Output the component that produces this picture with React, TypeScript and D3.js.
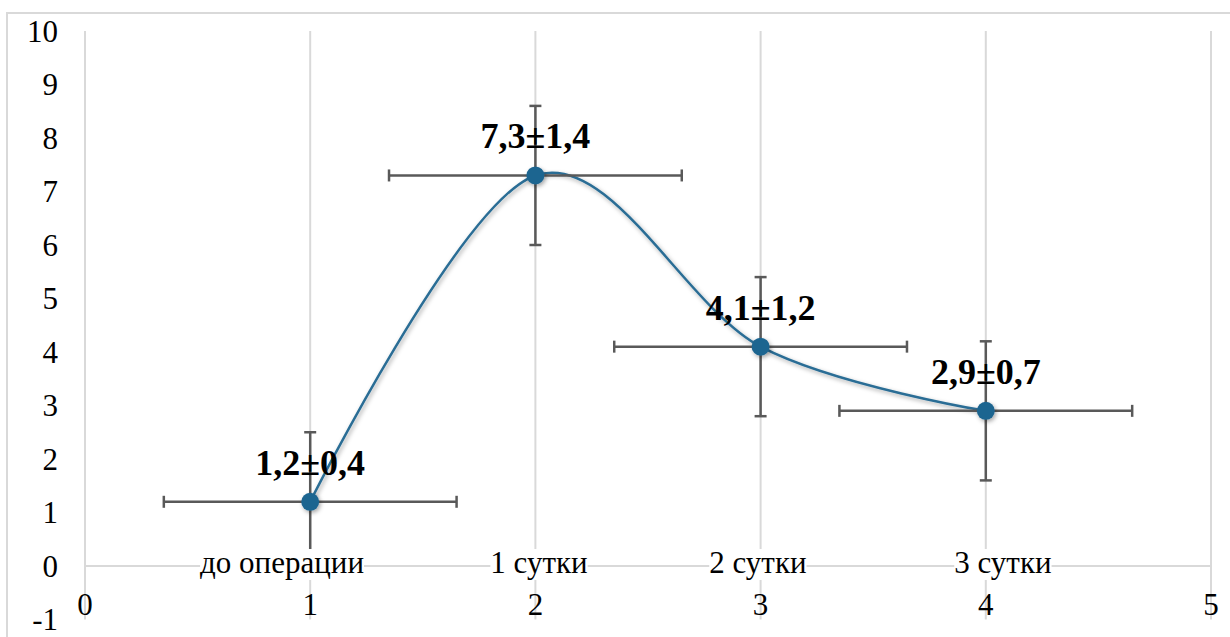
import React, { useEffect, useRef } from "react";
import * as d3 from "d3";

// Pain score by day: mean ± SD
const days = [1, 2, 3, 4];
const means = [1.2, 7.3, 4.1, 2.9];
const spreads = [0.4, 1.4, 1.2, 0.7];
const categories = ["до операции", "1 сутки", "2 сутки", "3 сутки"];
// fixed-value error bars of the series
const yErrorAmount = 1.3;
const xErrorAmount = 0.65;
const xTicks = [0, 1, 2, 3, 4, 5];
const yTicks = [-1, 0, 1, 2, 3, 4, 5, 6, 7, 8, 9, 10];

const W = 1230;
const H = 637;
const FONT = "'Liberation Serif', 'Times New Roman', serif";
const GRID = "#d9d9d9";
const BAR = "#595959";
const LINE = "#2a6d95";
const MARKER = "#1f6590";

// horizontal anchor (in x units) of each category caption
const captionAnchor = [0.875, 2.016, 2.988, 4.076];

const fmt = (v: number) => v.toFixed(1).replace(".", ",");

export default function App() {
  const ref = useRef<SVGSVGElement | null>(null);

  useEffect(() => {
    const svg = d3.select(ref.current!);
    svg.selectAll("*").remove();

    const x = d3.scaleLinear().domain([0, 5]).range([85, 1211]);
    const y = d3.scaleLinear().domain([-1, 10]).range([619.5, 31]);

    const defs = svg.append("defs");
    const f = defs
      .append("filter")
      .attr("id", "shadow")
      .attr("x", "-50%")
      .attr("y", "-50%")
      .attr("width", "200%")
      .attr("height", "200%");
    f.append("feDropShadow")
      .attr("dx", 1.5)
      .attr("dy", 2)
      .attr("stdDeviation", 2)
      .attr("flood-color", "#000")
      .attr("flood-opacity", 0.35);

    // chart border
    svg
      .append("rect")
      .attr("x", 7)
      .attr("y", 13)
      .attr("width", W + 20)
      .attr("height", H + 20)
      .attr("fill", "#fff")
      .attr("stroke", GRID)
      .attr("stroke-width", 2);

    // vertical gridlines
    svg
      .append("g")
      .selectAll("line")
      .data(xTicks)
      .join("line")
      .attr("x1", (d) => x(d))
      .attr("x2", (d) => x(d))
      .attr("y1", y(10))
      .attr("y2", y(-1))
      .attr("stroke", GRID)
      .attr("stroke-width", 2);

    // horizontal axis at zero
    svg
      .append("line")
      .attr("x1", x(0))
      .attr("x2", x(5))
      .attr("y1", y(0))
      .attr("y2", y(0))
      .attr("stroke", GRID)
      .attr("stroke-width", 2);

    // y tick labels
    svg
      .append("g")
      .selectAll("text")
      .data(yTicks)
      .join("text")
      .attr("x", 58)
      .attr("y", (d) => y(d) + 10.5)
      .attr("text-anchor", "end")
      .attr("font-family", FONT)
      .attr("font-size", 31)
      .attr("fill", "#000")
      .text((d) => String(d));

    // x tick labels
    svg
      .append("g")
      .selectAll("text")
      .data(xTicks)
      .join("text")
      .attr("x", (d) => x(d))
      .attr("y", y(0) + 49)
      .attr("text-anchor", "middle")
      .attr("font-family", FONT)
      .attr("font-size", 31)
      .attr("fill", "#000")
      .text((d) => String(d));

    const pts = days.map((d, i) => ({ d, m: means[i], s: spreads[i] }));

    // smoothed line
    const lineGen = d3
      .line<{ d: number; m: number }>()
      .x((p) => x(p.d))
      .y((p) => y(p.m))
      .curve(d3.curveCardinal.tension(0));
    svg
      .append("path")
      .attr("d", lineGen(pts)!)
      .attr("fill", "none")
      .attr("stroke", LINE)
      .attr("stroke-width", 2.5)
      .attr("filter", "url(#shadow)");

    // error bars
    const eb = svg.append("g").attr("stroke", BAR).attr("stroke-width", 2.5);
    const cap = 6;
    pts.forEach((p) => {
      const cx = x(p.d);
      const cy = y(p.m);
      const x0 = x(p.d - xErrorAmount);
      const x1 = x(p.d + xErrorAmount);
      const y0 = y(p.m - yErrorAmount);
      const y1 = y(p.m + yErrorAmount);
      eb.append("line").attr("x1", x0).attr("x2", x1).attr("y1", cy).attr("y2", cy);
      eb.append("line").attr("x1", x0).attr("x2", x0).attr("y1", cy - cap).attr("y2", cy + cap);
      eb.append("line").attr("x1", x1).attr("x2", x1).attr("y1", cy - cap).attr("y2", cy + cap);
      eb.append("line").attr("x1", cx).attr("x2", cx).attr("y1", y0).attr("y2", y1);
      eb.append("line").attr("x1", cx - cap).attr("x2", cx + cap).attr("y1", y0).attr("y2", y0);
      eb.append("line").attr("x1", cx - cap).attr("x2", cx + cap).attr("y1", y1).attr("y2", y1);
    });

    // markers
    svg
      .append("g")
      .selectAll("circle")
      .data(pts)
      .join("circle")
      .attr("cx", (p) => x(p.d))
      .attr("cy", (p) => y(p.m))
      .attr("r", 9)
      .attr("fill", MARKER)
      .attr("filter", "url(#shadow)");

    // category captions with white backing
    const cg = svg.append("g");
    categories.forEach((c, i) => {
      const g = cg.append("g");
      const bg = g.append("rect").attr("fill", "#fff");
      const t = g
        .append("text")
        .attr("x", x(captionAnchor[i]))
        .attr("y", y(0) + 7)
        .attr("text-anchor", "middle")
        .attr("font-family", FONT)
        .attr("font-size", 31)
        .attr("fill", "#000")
        .text(c);
      const b = (t.node() as SVGTextElement).getBBox();
      bg.attr("x", b.x)
        .attr("y", b.y + 4)
        .attr("width", b.width)
        .attr("height", b.height - 4);
    });

    // value labels
    svg
      .append("g")
      .selectAll("text")
      .data(pts)
      .join("text")
      .attr("x", (p) => x(p.d))
      .attr("y", (p) => y(p.m) - 27)
      .attr("text-anchor", "middle")
      .attr("font-family", FONT)
      .attr("font-weight", "bold")
      .attr("font-size", 36)
      .attr("fill", "#000")
      .text((p) => `${fmt(p.m)}±${fmt(p.s)}`);
  }, []);

  return (
    <svg
      ref={ref}
      width={W}
      height={H}
      style={{ position: "absolute", left: 0, top: 0, display: "block", background: "#fff" }}
    />
  );
}
